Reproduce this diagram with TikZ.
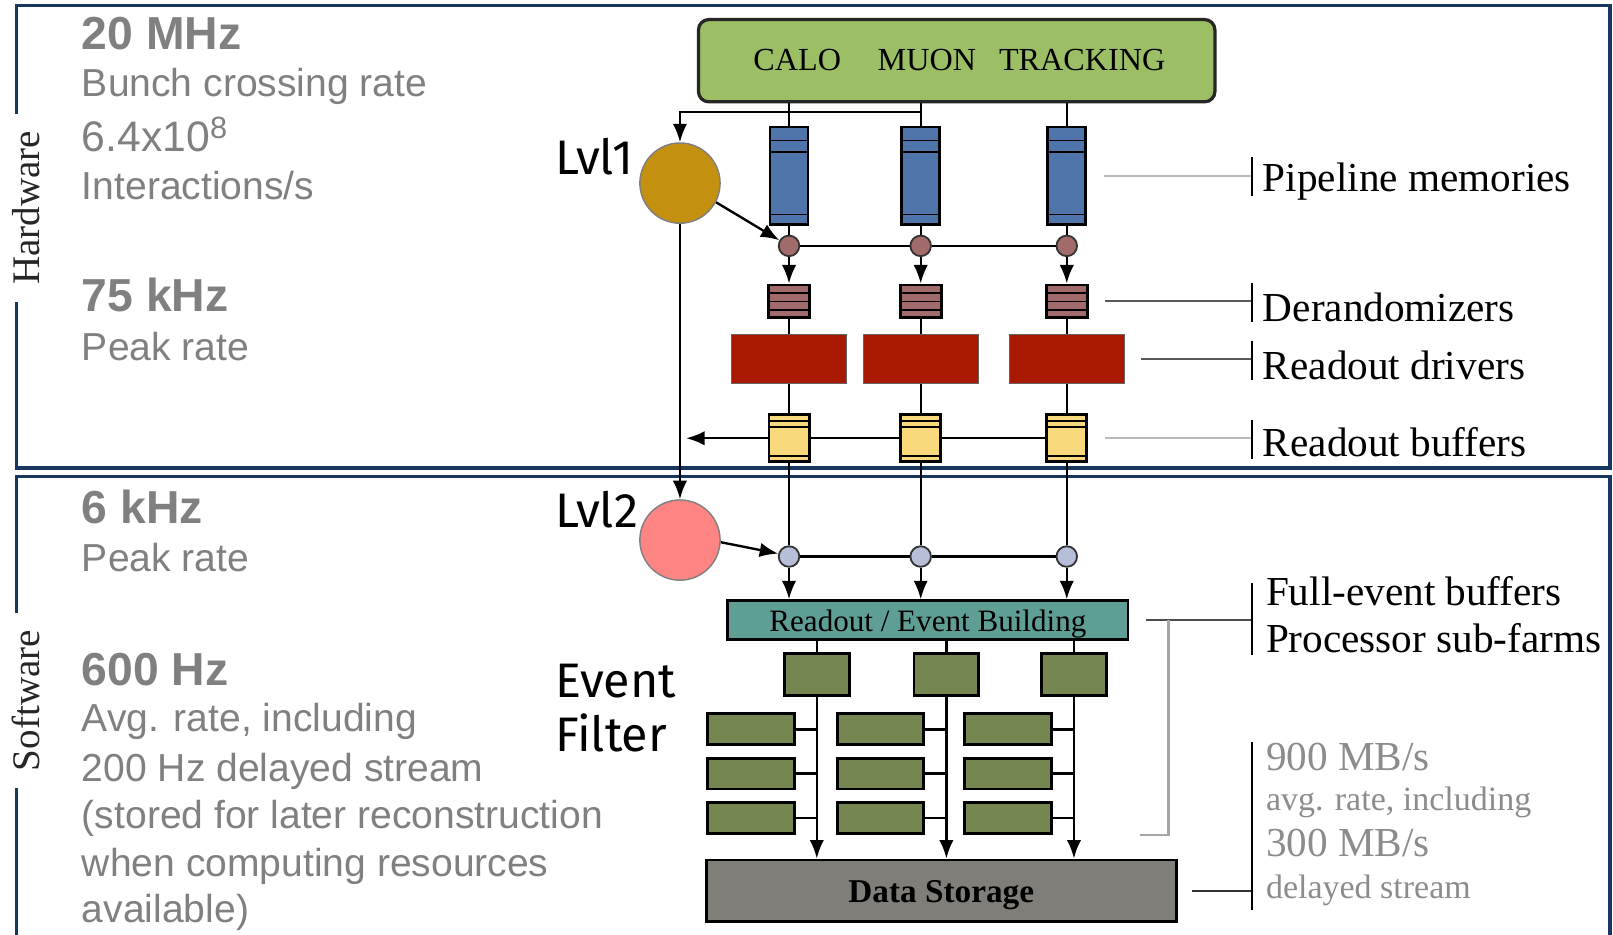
\documentclass[tikz,border=0pt]{standalone}
\usepackage{fontspec}
\setmainfont{Liberation Serif}
\newfontfamily\arialfont{Liberation Sans}
\newfontfamily\firafont{Fira Sans}
\usetikzlibrary{arrows.meta,positioning}

\definecolor{framecol}{HTML}{17375E}
\definecolor{detgreen}{HTML}{9CBF66}
\definecolor{pipeblue}{HTML}{4F75AA}
\definecolor{derandcol}{HTML}{A26B6B}
\definecolor{drivercol}{HTML}{A91800}
\definecolor{robcol}{HTML}{FAD87C}
\definecolor{ejunc}{HTML}{B7BED7}
\definecolor{rebcol}{HTML}{5F9E94}
\definecolor{farmcol}{HTML}{768650}
\definecolor{storecol}{HTML}{807E78}
\definecolor{lvlone}{HTML}{C4900F}
\definecolor{lvltwo}{HTML}{FF8585}
\definecolor{rategray}{HTML}{808080}
\definecolor{mbgray}{HTML}{8C8C8C}

\tikzset{
  frame/.style={draw=framecol, line width=0.9pt},
  side/.style={rotate=90, fill=white, text=black!85, inner xsep=1.65mm, inner ysep=0.5mm,
    font=\fontsize{10.8pt}{13pt}\selectfont},
  rate/.style={anchor=base west, inner sep=0pt, text=rategray,
    font=\arialfont\fontsize{10.8pt}{13pt}\selectfont},
  ratebig/.style={rate, font=\arialfont\fontsize{11.8pt}{14pt}\selectfont},
  ratebf/.style={rate, font=\arialfont\bfseries\fontsize{12.8pt}{15pt}\selectfont},
  trig/.style={circle, draw=black!50, line width=0.4pt, minimum size=7.8mm, inner sep=0pt},
  trigtext/.style={anchor=base west, inner sep=0pt, font=\firafont\fontsize{13.4pt}{16pt}\selectfont},
  det/.style={draw=black!85, line width=0.9pt, rounded corners=1mm, fill=detgreen,
    minimum width=50.2mm, minimum height=8mm},
  dettext/.style={anchor=base, inner sep=0pt, font=\fontsize{8.9pt}{10pt}\selectfont},
  box/.style={draw=black, line width=0.8pt, inner sep=0pt},
  stripe/.style={line width=0.5pt},
  pipe/.style={box, fill=pipeblue, minimum width=3.7mm, minimum height=9.5mm,
    path picture={
      \foreach \s in {-1.3mm,-2.4mm}
        \draw[stripe] ([yshift=\s]path picture bounding box.north west) -- ([yshift=\s]path picture bounding box.north east);
      \draw[stripe] ([yshift=1mm]path picture bounding box.south west) -- ([yshift=1mm]path picture bounding box.south east);}},
  derand/.style={box, fill=derandcol, minimum width=4mm, minimum height=3.2mm,
    path picture={
      \foreach \s in {-0.8mm,-1.6mm,-2.4mm}
        \draw[stripe] ([yshift=\s]path picture bounding box.north west) -- ([yshift=\s]path picture bounding box.north east);}},
  driver/.style={draw=black!60, line width=0.3pt, fill=drivercol, minimum width=11.2mm, minimum height=4.7mm},
  robuf/.style={box, fill=robcol, minimum width=3.9mm, minimum height=4.6mm,
    path picture={
      \foreach \s in {-0.65mm,-1.2mm}
        \draw[stripe] ([yshift=\s]path picture bounding box.north west) -- ([yshift=\s]path picture bounding box.north east);
      \draw[stripe] ([yshift=0.6mm]path picture bounding box.south west) -- ([yshift=0.6mm]path picture bounding box.south east);}},
  junc/.style={circle, draw=black!80, line width=0.5pt, minimum size=2mm, inner sep=0pt},
  reb/.style={box, fill=rebcol, minimum width=38.9mm, minimum height=3.8mm,
    text height=1.6ex, text depth=0.2ex, font=\fontsize{8.6pt}{10pt}\selectfont},
  fullbuf/.style={box, fill=farmcol, minimum width=6.3mm, minimum height=4.1mm},
  farm/.style={box, fill=farmcol, minimum width=8.4mm, minimum height=3mm},
  store/.style={box, fill=storecol, minimum width=45.7mm, minimum height=6mm,
    text height=1.6ex, text depth=0.2ex, font=\bfseries\fontsize{9.2pt}{10pt}\selectfont},
  conn/.style={line width=0.65pt},
  leader/.style={line width=0.6pt},
  tick/.style={line width=0.7pt, black},
  rlabel/.style={anchor=base west, inner sep=0pt, font=\fontsize{11.4pt}{13pt}\selectfont},
  mbrate/.style={anchor=base west, inner sep=0pt, text=mbgray, font=\fontsize{11.4pt}{13pt}\selectfont},
  mbnote/.style={mbrate, font=\fontsize{9.4pt}{11pt}\selectfont},
}

\begin{document}
\begin{tikzpicture}[x=0.1mm, y=-0.1mm, >={Latex[length=1.8mm,width=1.4mm]}]
  \useasboundingbox (0,0) rectangle (1568,908);
  %\draw[very thin,gray] (0,0) grid[step=100] (1568,908);
  \draw[frame] (16,5) rectangle (1565,455);
  \draw[frame] (16,463) rectangle (1565,940);
  \node[side] (hw) at (25,202) {Hardware};
  \node[side] (sw) at (25,681) {Software};

  % rates on the left
  \foreach \y/\t [count=\n] in {48/20 MHz, 303/75 kHz, 509/6 kHz, 666/600 Hz}
    \node[ratebf] (hz\n) at (79,\y) {\t};
  \node[ratebig] (rx) at (79,147) {6.4x10\raisebox{0.55ex}{\fontsize{8.5pt}{9pt}\selectfont 8}};
  \foreach \y/\t [count=\n] in {94/Bunch crossing rate, 194/{Interactions/s},
      350/Peak rate, 556/Peak rate, 711/{Avg. rate, including}, 760/200 Hz delayed stream,
      805/{(stored for later reconstruction}, 852/when computing resources, 897/{available)}}
    \node[rate] (rt\n) at (79,\y) {\t};

  % triggers
  \node[trig, fill=lvlone] (lvl1) at (661,178) {};
  \node[trig, fill=lvltwo] (lvl2) at (661,525) {};
  \node[trigtext] (tl1) at (539,170) {Lvl1};
  \node[trigtext] (tl2) at (539,513) {Lvl2};
  \node[trigtext] (tev) at (539,678) {Event};
  \node[trigtext] (tfi) at (539,731) {Filter};

  % detector
  \node[det] (det) at (930,59) {};
  \node[dettext] (calo) at (775,69) {CALO};
  \node[dettext] (muon) at (901,69) {MUON};
  \node[dettext] (trk) at (1052,69) {TRACKING};

  % hardware chain
  \foreach \i/\x in {1/767,2/895,3/1037} {
    \node[pipe] (pm\i) at (\x,171) {};
    \node[junc, fill=derandcol] (d\i) at (\x,239) {};
    \node[derand] (dr\i) at (\x,293) {};
    \node[driver] (rd\i) at (\x,349) {};
    \node[robuf] (rb\i) at (\x,426) {};
    \node[junc, fill=ejunc] (e\i) at (\x,541) {};
    \draw[conn] (det.south -| pm\i.north) -- (pm\i.north);
    \draw[conn] (pm\i) -- (d\i);
    \draw[conn,->] (d\i) -- (dr\i);
    \draw[conn] (dr\i) -- (rd\i);
    \draw[conn] (rd\i) -- (rb\i);
    \draw[conn] (rb\i) -- (e\i);
  }
  \draw[conn] (d1) -- (d2) -- (d3);
  \draw[conn] (e1) -- (e2) -- (e3);
  \draw[conn] (rb3) -- (rb2) -- (rb1);

  \coordinate (tap) at (pm2.north |- 0,109);
  \coordinate (robend) at ([xshift=0.6mm]lvl1.south |- rb1);
  \draw[conn,->] (tap) -| (lvl1.north);
  \draw[conn,->] (lvl1.-28) -- (d1.150);
  \draw[conn,->] (lvl1) -- (lvl2);
  \draw[conn,->] (rb1) -- (robend);
  \draw[conn,->] (lvl2.-3) -- (e1.165);

  % event building and filter
  \node[reb] (reb) at (902,603) {Readout / Event Building};
  \node[store] (ds) at (915,866) {Data Storage};
  \foreach \i in {1,2,3}
    \draw[conn,->] (e\i) -- (e\i |- reb.north);
  \foreach \i/\x in {1/794,2/920,3/1044} {
    \node[fullbuf] (fb\i) at (\x,656) {};
    \draw[conn] (reb.south -| fb\i.north) -- (fb\i.north);
    \draw[conn,->] (fb\i.south) -- (fb\i.south |- ds.north);
    \foreach \j/\y in {1/709,2/752,3/795} {
      \node[farm] (pf\i\j) at (\x-64,\y) {};
      \draw[conn] (pf\i\j.east) -- (pf\i\j.east -| fb\i.south);
    }
  }

  % labels on the right
  \coordinate (rcol) at (1217,0);
  \foreach \el/\nm/\txt/\lc/\dy in {pm3/lpm/Pipeline memories/gray!55/-1.5mm, dr3/ldr/Derandomizers/black!65/-2mm,
      rd3/lrd/Readout drivers/black!65/-2mm, rb3/lrb/Readout buffers/gray!55/-1.8mm} {
    \draw[leader, \lc] ([xshift=1.6mm]\el.east) -- (\el.east -| rcol);
    \draw[tick] ([yshift=1.8mm]\el.east -| rcol) -- ([yshift=-2mm]\el.east -| rcol);
    \node[rlabel] (\nm) at ([xshift=1mm,yshift=\dy]\el.east -| rcol) {\txt};
  }
  \draw[leader, black!70] ([xshift=1.6mm]reb.east) -- (reb.east -| rcol);
  \draw[leader, gray!70] ([xshift=3.8mm]reb.east) |- ([xshift=1mm]reb.east |- pf33.south);
  \draw[tick] ([yshift=3.6mm]reb.east -| rcol) -- ([yshift=-3.4mm]reb.east -| rcol);
  \node[rlabel] (lfb) at ([xshift=1.3mm,yshift=1.4mm]reb.east -| rcol) {Full-event buffers};
  \node[rlabel] (lpf) at ([xshift=1.3mm,yshift=-3.1mm]reb.east -| rcol) {Processor sub-farms};

  \draw[leader, black!80] ([xshift=1.4mm]ds.east) -- (ds.east -| rcol);
  \draw[tick] (rcol |- 0,721) -- (rcol |- 0,885);
  \node[mbrate] (mb1) at (1230,749) {900 MB/s};
  \node[mbnote] (mb2) at (1230,788) {avg. rate, including};
  \node[mbrate] (mb3) at (1230,833) {300 MB/s};
  \node[mbnote] (mb4) at (1230,873) {delayed stream};
\end{tikzpicture}
\end{document}
